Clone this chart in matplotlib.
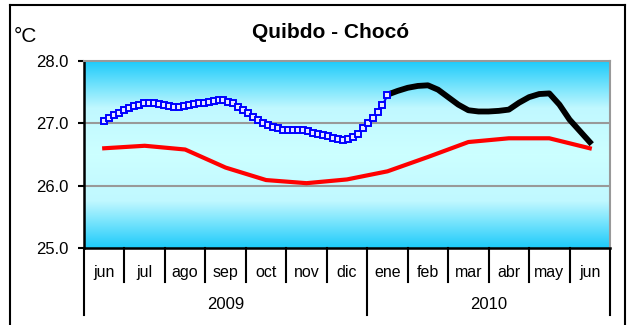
import numpy as np
import matplotlib.pyplot as plt
from matplotlib.colors import LinearSegmentedColormap
from matplotlib.lines import Line2D

plt.rcParams['font.family'] = ['Liberation Sans', 'DejaVu Sans']

meses = ['jun', 'jul', 'ago', 'sep', 'oct', 'nov', 'dic',
         'ene', 'feb', 'mar', 'abr', 'may', 'jun']
anios = ['2009', '2010']

# promedio mensual multianual (°C)
media = [26.60, 26.64, 26.58, 26.29, 26.09, 26.04, 26.10,
         26.23, 26.46, 26.70, 26.76, 26.76, 26.60]

# temperatura observada, jun 2009 - ene 2010
observado = [27.03, 27.09, 27.13, 27.17, 27.21, 27.25, 27.28, 27.30, 27.32, 27.32,
             27.32, 27.31, 27.29, 27.28, 27.27, 27.27, 27.28, 27.29, 27.31,
             27.32, 27.33, 27.34, 27.36, 27.37, 27.37, 27.35, 27.32, 27.26, 27.21,
             27.16, 27.10, 27.05, 27.00, 26.97, 26.94, 26.92, 26.90, 26.89, 26.89,
             26.90, 26.89, 26.87, 26.85, 26.83, 26.82, 26.80, 26.77, 26.75, 26.73,
             26.75, 26.78, 26.83, 26.92, 27.00, 27.08, 27.18, 27.29, 27.45]

# pronostico ene - jun 2010 (cada cuarto de mes)
pronostico = [27.46, 27.52, 27.57, 27.60, 27.61, 27.54, 27.42, 27.30, 27.21,
              27.19, 27.19, 27.20, 27.22, 27.33, 27.42, 27.47, 27.48, 27.30,
              27.06, 26.88, 26.70]

fig = plt.figure(figsize=(6.31, 3.25), dpi=100)
ax = fig.add_axes([84 / 631, 77 / 325, 526 / 631, 187 / 325])

# fondo degradado desde el centro
grad = np.abs(np.linspace(-1, 1, 256))[:, None]
cmap = LinearSegmentedColormap.from_list('fondo', ['#ccffff', '#c0f8ff', '#1ecbfa'])
ax.imshow(grad, aspect='auto', cmap=cmap, extent=[-0.5, 12.5, 25, 28],
          interpolation='bilinear', zorder=0)

for v in [26, 27]:
    ax.axhline(v, color='#999999', lw=1.5, zorder=1)

x_media = np.arange(len(media))
ax.plot(x_media, media, color='#ff0000', lw=3, zorder=3)

x_obs = np.linspace(0, 7, len(observado))
ax.plot(x_obs, observado, color='#0000ff', lw=1.5, marker='s', ms=4.6,
        mfc='#e8e8ff', mec='#0000ff', mew=1.4, zorder=4)

x_pron = np.linspace(7, 12, len(pronostico))
ax.plot(x_pron, pronostico, color='black', lw=4.2, zorder=3)

ax.set_xlim(-0.5, 12.5)
ax.set_ylim(25, 28)
ax.set_yticks([25, 26, 27, 28])
ax.set_yticklabels(['%.1f' % v for v in [25, 26, 27, 28]])
ax.tick_params(axis='y', direction='out', length=4, width=1.5, pad=7, labelsize=12)

ax.set_xticks(x_media)
ax.set_xticklabels(meses)
ax.tick_params(axis='x', length=0, pad=12, labelsize=11.5)

for s in ['left', 'bottom']:
    ax.spines[s].set_color('black')
    ax.spines[s].set_linewidth(1.8)
for s in ['top', 'right']:
    ax.spines[s].set_color('#999999')
    ax.spines[s].set_linewidth(1.5)

# separadores de meses y de anios bajo el eje
trans = ax.get_xaxis_transform()
for i in range(len(meses) + 1):
    xb = i - 0.5
    ybot = -0.358 if xb in (-0.5, 6.5, 12.5) else -0.182
    ax.plot([xb, xb], [0, ybot], color='black', lw=1.5, transform=trans, clip_on=False)

ax.text(3.0, -0.30, anios[0], transform=trans, ha='center', va='center', fontsize=12)
ax.text(9.5, -0.30, anios[1], transform=trans, ha='center', va='center', fontsize=12)

fig.text(331 / 631, 1 - 33 / 325, 'Quibdo - Chocó', ha='center', va='center',
         fontsize=15, fontweight='bold')
fig.text(14 / 631, 1 - 36 / 325, '°C', ha='left', va='center', fontsize=15)

# marco exterior
for xs, ys in [([10, 625], [5, 5]), ([10, 10], [5, 330]), ([625, 625], [5, 330])]:
    fig.add_artist(Line2D([x / 631 for x in xs], [1 - y / 325 for y in ys],
                          color='black', lw=1.5))

fig.savefig('out.png', dpi=100)
